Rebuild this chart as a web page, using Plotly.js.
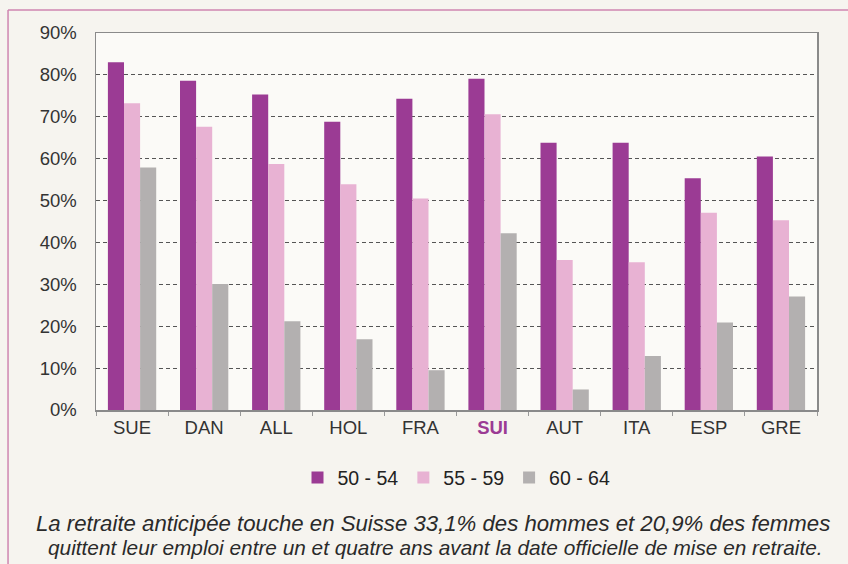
<!DOCTYPE html>
<html><head><meta charset="utf-8">
<script src="https://cdn.plot.ly/plotly-3.0.1.min.js"></script>
<style>html,body{margin:0;padding:0;background:#f6f4ef;}#chart{width:848px;height:564px;}</style>
</head><body><div id="chart"></div>
<script>
const categories = ["SUE","DAN","ALL","HOL","FRA","SUI","AUT","ITA","ESP","GRE"];
const seriesNames = ["50 - 54","55 - 59","60 - 64"];
const v5054 = [83, 78.6, 75.3, 68.8, 74.3, 79.1, 63.8, 63.8, 55.3, 60.5];
const v5559 = [73.2, 67.6, 58.7, 53.9, 50.5, 70.6, 35.8, 35.3, 47.1, 45.3];
const v6064 = [57.9, 30.1, 21.2, 16.9, 9.5, 42.2, 4.9, 12.9, 20.9, 27.1];
const yTicks = [0,10,20,30,40,50,60,70,80,90];
const highlight = "SUI";
const caption1 = "La retraite anticipée touche en Suisse 33,1% des hommes et 20,9% des femmes";
const caption2 = "quittent leur emploi entre un et quatre ans avant la date officielle de mise en retraite.";

const colors = ["#9b3b94","#e8b2d3","#b3b0b0"];
const allVals = [v5054, v5559, v6064];
const traces = allVals.map((vals,i)=>({
  type:"bar", x:categories, y:vals, name:seriesNames[i],
  marker:{color:colors[i], line:{width:0}}
}));
const ticktext = categories.map(c => c===highlight ? '<b><span style="color:#9b3b94">'+c+'</span></b>' : c);
const fontFam = "Liberation Sans, Arial, sans-serif";
const layout = {
  width:848, height:564,
  paper_bgcolor:"#f6f4ef", plot_bgcolor:"#fbfaf7",
  margin:{l:96, r:31, t:33, b:154},
  barmode:"group", bargap:0.33, bargroupgap:0,
  font:{family:fontFam, size:18, color:"#333"},
  showlegend:true,
  legend:{orientation:"h", x:0.5, xanchor:"center", y:-0.18, yanchor:"middle",
    font:{size:19.5, color:"#222"}, bgcolor:"rgba(0,0,0,0)", itemwidth:30, traceorder:"normal"},
  xaxis:{type:"category", tickvals:categories, ticktext:ticktext,
    showline:true, linecolor:"#8a8a8a", linewidth:1.5, mirror:true,
    ticks:"outside", ticklen:4, tickcolor:"#999", tickson:"boundaries",
    tickfont:{size:18.5, color:"#333"}, showgrid:false},
  yaxis:{range:[0,90], tickvals:yTicks, ticktext:yTicks.map(t=>t+"%"),
    showline:true, linecolor:"#8a8a8a", linewidth:1.5, mirror:true,
    showgrid:true, gridcolor:"#555", griddash:"4px,3px", gridwidth:1,
    ticks:"", ticklabelstandoff:14, tickfont:{size:18.5, color:"#333"}, zeroline:false},
  shapes:[
    {type:"line", xref:"paper", yref:"paper", x0:-0.122, x1:1.1, y0:1.061, y1:1.061, line:{color:"#cf86b0", width:1.5}},
    {type:"line", xref:"paper", yref:"paper", x0:-0.122, x1:-0.122, y0:1.061, y1:-0.45, line:{color:"#cf86b0", width:1.5}}
  ],
  annotations:[
    {xref:"paper", yref:"paper", x:(433-96)/721, y:(410-523)/377, xanchor:"center", yanchor:"middle", showarrow:false,
     text:caption1, font:{size:22.2, style:"italic", color:"#2a2a2a", family:fontFam}},
    {xref:"paper", yref:"paper", x:(435-96)/721, y:(410-547)/377, xanchor:"center", yanchor:"middle", showarrow:false,
     text:caption2, font:{size:20.8, style:"italic", color:"#2a2a2a", family:fontFam}}
  ]
};
Plotly.newPlot("chart", traces, layout, {displayModeBar:false, staticPlot:true});
</script></body></html>
